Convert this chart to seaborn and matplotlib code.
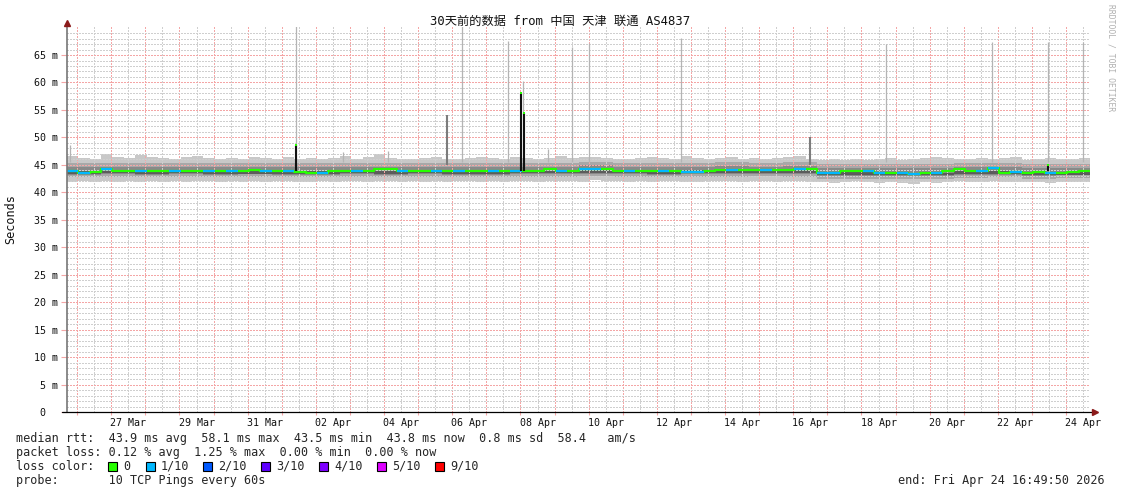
import datetime as dt
import numpy as np
import pandas as pd
import matplotlib
matplotlib.use('Agg')
import matplotlib.pyplot as plt
import matplotlib.dates as mdates
from matplotlib.ticker import FixedLocator, FuncFormatter, NullFormatter
from matplotlib.patches import Rectangle
import seaborn as sns

sns.set_style('white')
plt.rcParams['font.family'] = ['DejaVu Sans Mono', 'Noto Sans CJK SC']
plt.rcParams['lines.scale_dashes'] = False

# time window of the graph
start = pd.Timestamp('2026-03-25 16:49:50')
end = pd.Timestamp('2026-04-24 16:49:50')

# median rtt (ms) per 8 hour bin, and loss (tenths) per bin
median_ms = [43.9, 43.6, 43.7, 44.2, 43.9, 43.8, 43.9, 43.8, 43.9, 43.8,
             43.9, 43.8, 43.9, 43.8, 43.9, 43.8, 44.0, 43.9, 43.8, 43.9,
             43.7, 43.6, 43.6, 43.8, 43.9, 43.8, 43.9, 44.2, 44.3, 43.9,
             43.8, 43.9, 43.8, 43.9, 43.8, 43.9, 43.8, 43.9, 43.8, 43.9,
             43.9, 43.8, 44.2, 43.9, 43.8, 44.3, 44.2, 44.2, 43.9, 43.8,
             43.9, 43.8, 43.9, 43.8, 43.7, 43.7, 43.9, 44.0, 44.1, 44.0,
             44.1, 44.0, 44.1, 44.0, 44.2, 44.3, 43.6, 43.5, 43.8, 43.9,
             43.8, 43.5, 43.6, 43.5, 43.4, 43.6, 43.5, 43.8, 44.3, 43.9,
             43.8, 44.5, 43.6, 43.7, 43.6, 43.7, 43.6, 43.6, 43.7, 43.8]
loss_tenths = [1, 1, 0, 1, 0, 0, 1, 0, 0, 1,
               0, 0, 1, 0, 1, 0, 0, 1, 0, 1,
               0, 0, 1, 0, 0, 1, 0, 0, 0, 1,
               0, 0, 1, 0, 1, 0, 0, 1, 0, 1,
               0, 0, 0, 1, 0, 1, 1, 0, 0, 1,
               0, 0, 1, 0, 1, 1, 0, 0, 1, 0,
               0, 1, 0, 0, 1, 0, 1, 1, 0, 0,
               1, 1, 0, 1, 1, 0, 1, 0, 0, 0,
               1, 1, 0, 1, 0, 0, 1, 0, 0, 0]

# outer smoke (fastest / slowest ping) per 8 hour bin
smoke_top = [46.6, 46.3, 46.1, 46.9, 46.4, 46.2, 46.8, 46.5, 46.3, 46.0,
             46.4, 46.7, 46.2, 46.0, 46.3, 46.1, 46.5, 46.2, 46.0, 46.4,
             46.1, 46.3, 46.0, 46.2, 46.6, 46.1, 46.4, 46.9, 46.3, 46.1,
             46.0, 46.2, 46.4, 46.1, 46.0, 46.3, 46.5, 46.2, 46.1, 46.4,
             46.2, 46.0, 46.3, 46.6, 46.2, 46.4, 46.5, 46.3, 46.1, 46.0,
             46.2, 46.5, 46.3, 46.1, 46.6, 46.2, 46.0, 46.3, 46.4, 46.1,
             46.3, 46.0, 46.2, 46.5, 46.7, 46.1, 45.9, 46.0, 45.8, 46.1,
             45.9, 46.0, 46.2, 45.9, 46.1, 46.3, 46.5, 46.2, 46.0, 46.1,
             46.3, 46.0, 46.2, 46.4, 45.9, 46.0, 46.3, 46.1, 46.0, 46.2]
smoke_bottom = [41.9, 42.0, 41.8, 42.1, 41.9, 42.0, 41.9, 42.1, 41.8, 42.0,
                41.9, 42.0, 42.1, 41.9, 42.0, 41.8, 42.0, 41.9, 42.1, 42.0,
                41.8, 41.9, 42.0, 41.9, 42.1, 42.0, 41.9, 42.0, 42.1, 41.9,
                42.0, 41.8, 42.0, 41.9, 42.1, 42.0, 41.9, 42.0, 41.8, 42.0,
                42.1, 41.9, 42.0, 42.1, 42.0, 41.9, 42.2, 42.1, 42.0, 41.9,
                42.0, 41.9, 42.1, 42.0, 41.9, 41.8, 42.0, 42.1, 42.0, 41.9,
                42.1, 42.0, 41.9, 42.1, 42.0, 41.9, 41.8, 41.7, 41.9, 42.0,
                41.8, 41.7, 41.8, 41.7, 41.6, 41.8, 41.7, 41.9, 42.0, 41.9,
                41.8, 42.0, 41.8, 41.9, 41.8, 41.9, 41.7, 41.8, 41.8, 41.9]

# inner smoke layers per day
mid_hi = [45.4, 45.3, 45.4, 45.3, 45.3, 45.4, 45.3, 45.4, 45.3, 45.4,
          45.3, 45.3, 45.4, 45.3, 45.3, 45.5, 45.4, 45.3, 45.4, 45.5,
          45.4, 45.5, 45.2, 45.1, 45.2, 45.1, 45.3, 45.4, 45.2, 45.2]
mid_lo = [42.7, 42.8, 42.7, 42.8, 42.7, 42.8, 42.7, 42.7, 42.8, 42.7,
          42.8, 42.7, 42.7, 42.8, 42.8, 42.9, 42.8, 42.7, 42.8, 42.8,
          42.9, 42.8, 42.5, 42.5, 42.4, 42.5, 42.6, 42.7, 42.5, 42.6]
core_hi = [44.7, 44.6, 44.7, 44.6, 44.6, 44.7, 44.6, 44.7, 44.6, 44.6,
           44.7, 44.6, 44.6, 44.7, 44.6, 44.9, 44.7, 44.6, 44.7, 44.8,
           44.7, 44.8, 44.5, 44.4, 44.4, 44.4, 44.6, 44.7, 44.5, 44.5]
core_lo = [43.2, 43.3, 43.2, 43.3, 43.2, 43.3, 43.2, 43.2, 43.3, 43.2,
           43.3, 43.2, 43.2, 43.3, 43.3, 43.4, 43.3, 43.2, 43.3, 43.3,
           43.4, 43.3, 43.0, 43.0, 42.9, 43.0, 43.1, 43.2, 43.0, 43.1]
dark_hi = [43.9, 43.9, 43.9, 43.9, 43.8, 43.9, 43.9, 43.9, 43.9, 43.9,
           43.9, 43.9, 43.9, 43.9, 43.9, 44.1, 43.9, 43.9, 44.0, 44.0,
           44.0, 44.1, 43.7, 43.7, 43.6, 43.6, 43.8, 43.9, 43.7, 43.7]
dark_lo = [43.4, 43.5, 43.4, 43.5, 43.4, 43.4, 43.4, 43.4, 43.5, 43.4,
           43.5, 43.4, 43.4, 43.5, 43.5, 43.6, 43.5, 43.4, 43.5, 43.5,
           43.6, 43.5, 43.2, 43.2, 43.1, 43.2, 43.3, 43.4, 43.2, 43.2]

# single slow pings
spike_times = ['2026-03-25 18:56', '2026-04-01 10:00', '2026-04-02 19:00',
               '2026-04-04 02:40', '2026-04-06 06:45', '2026-04-07 15:10',
               '2026-04-08 01:30', '2026-04-08 19:27', '2026-04-09 12:15',
               '2026-04-10 00:15', '2026-04-12 17:05', '2026-04-18 17:20',
               '2026-04-21 19:55', '2026-04-23 11:20', '2026-04-24 11:50']
spike_tops = [48.6, 70.5, 47.3, 47.5, 70.5, 67.5, 60.2, 47.8, 66.4,
              67.2, 68.1, 67.0, 67.4, 67.4, 67.3]
# several slow pings in one step
heavy_times = ['2026-04-05 20:10', '2026-04-16 11:50']
heavy_tops = [54.0, 50.0]
# median excursions
med_spike_times = ['2026-04-01 10:00', '2026-04-08 00:40', '2026-04-08 02:35',
                   '2026-04-23 11:20']
med_spike_peaks = [48.6, 58.1, 54.4, 44.9]

loss_colors = {0: '#26ff00', 1: '#00b8ff', 2: '#0059ff', 3: '#5e00ff',
               4: '#7e00ff', 5: '#dd00ff', 9: '#ff0000'}
legend_labels = ['0', '1/10', '2/10', '3/10', '4/10', '5/10', '9/10']
legend_keys = [0, 1, 2, 3, 4, 5, 9]

W, H = 1121, 494
fig = plt.figure(figsize=(W / 100, H / 100), dpi=100)
ax = fig.add_axes([67 / W, (H - 412) / H, 1023 / W, 385 / H])

bins8 = pd.date_range(start, periods=len(median_ms) + 1, freq='8h')
days = pd.date_range(start, periods=len(mid_hi) + 1, freq='D')

def ext(a):
    return np.append(a, a[-1])

# smoke
ax.fill_between(bins8, ext(smoke_bottom), ext(smoke_top), step='post',
                color='#c8c8c8', lw=0, zorder=1)
ax.fill_between(days, ext(mid_lo), ext(mid_hi), step='post',
                color='#a8a8a8', lw=0, zorder=1.1)
ax.fill_between(days, ext(core_lo), ext(core_hi), step='post',
                color='#898989', lw=0, zorder=1.2)
ax.fill_between(days, ext(dark_lo), ext(dark_hi), step='post',
                color='#5c5c5c', lw=0, zorder=1.3)

# slow ping spikes (above the grid)
ax.vlines(pd.to_datetime(spike_times), 45.5, spike_tops, color='#b4b4b4',
          lw=0.9, zorder=2.7)
ax.vlines(pd.to_datetime(heavy_times), 45.0, heavy_tops, color='#7c7c7c',
          lw=1.5, zorder=2.7)

# median line, green where no loss
med_df = pd.DataFrame({'time': bins8, 'median': ext(median_ms)})
sns.lineplot(data=med_df, x='time', y='median', drawstyle='steps-post',
             color=loss_colors[0], lw=1.6, ax=ax, zorder=3)
for i, l in enumerate(loss_tenths):
    if l > 0:
        ax.hlines(median_ms[i], bins8[i], bins8[i + 1], color=loss_colors[l],
                  lw=1.6, zorder=3.1)

ms_t = pd.to_datetime(med_spike_times)
ax.vlines(ms_t, 43.8, med_spike_peaks, color='#111111', lw=1.5, zorder=3.2)
ax.scatter(ms_t, med_spike_peaks, marker='s', s=4, color=loss_colors[0],
           lw=0, zorder=3.3)

ax.set_xlim(start, end)
ax.set_ylim(0, 70.1)
ax.set_xlabel('')
ax.set_ylabel('')

# axes ticks / grid in rrdtool style
ax.xaxis.set_major_locator(mdates.DayLocator())
ax.xaxis.set_major_formatter(NullFormatter())
ax.xaxis.set_minor_locator(mdates.HourLocator(byhour=[12]))
first_label = dt.date(2026, 3, 27)

def xfmt(x, pos):
    d = mdates.num2date(x)
    if (d.date() - first_label).days % 2 == 0:
        return d.strftime('%d %b')
    return ''

ax.xaxis.set_minor_formatter(FuncFormatter(xfmt))
ax.yaxis.set_major_locator(FixedLocator(list(range(0, 70, 5))))
ax.yaxis.set_minor_locator(FixedLocator([v for v in range(1, 70) if v % 5]))
ax.yaxis.set_major_formatter(FuncFormatter(lambda v, p: '0  ' if v == 0 else f'{int(v)} m'))

red = '#f4a6a6'
grey = '#cfcfcf'
dots = (0, (1.44, 1.44))
ax.set_axisbelow(False)
ax.grid(which='major', color=red, ls=dots, lw=0.72, antialiased=False)
ax.grid(which='minor', color=grey, ls=dots, lw=0.72, antialiased=False)
ax.tick_params(axis='y', which='major', length=4, width=0.8, color=red,
               labelsize=7.2, pad=2.5, labelcolor='#111111', left=True)
ax.tick_params(axis='y', which='minor', length=0)
ax.tick_params(axis='x', which='major', length=2.5, width=0.8, color=red,
               bottom=True)
ax.tick_params(axis='x', which='minor', length=0, labelsize=7.2, pad=4,
               labelcolor='#111111')
for s in ax.spines.values():
    s.set_visible(False)

# axis lines with arrows
ax.plot([0, 0], [0, 1 + 4 / 385], transform=ax.transAxes, color='#777777',
        lw=1.2, clip_on=False, zorder=4)
ax.plot([-5 / 1023, 1 + 4 / 1023], [0, 0], transform=ax.transAxes,
        color='#000000', lw=0.9, clip_on=False, zorder=4)
ax.plot([0], [1 + 4 / 385], transform=ax.transAxes, marker='^', ms=4.5,
        color='#8b1a1a', clip_on=False, zorder=5)
ax.plot([1 + 5 / 1023], [0], transform=ax.transAxes, marker='>', ms=4.5,
        color='#8b1a1a', clip_on=False, zorder=5)

def px(x, y):
    return x / W, 1 - y / H

fs = 8.5
fig.text(*px(560, 21), '30天前的数据 from 中国 天津 联通 AS4837', ha='center',
         va='center', fontsize=8.8, color='#111111')
fig.text(*px(11, 219), 'Seconds', rotation=90, ha='center', va='center',
         fontsize=fs, color='#111111')
fig.text(*px(1111, 4), 'RRDTOOL / TOBI OETIKER', rotation=270, ha='center',
         va='top', fontsize=5.8, color='#b0b0b0')

fig.text(*px(16, 438), 'median rtt:  43.9 ms avg  58.1 ms max  43.5 ms min  '
         '43.8 ms now  0.8 ms sd  58.4   am/s', va='center', fontsize=fs)
fig.text(*px(16, 452), 'packet loss: 0.12 % avg  1.25 % max  0.00 % min  '
         '0.00 % now', va='center', fontsize=fs)
fig.text(*px(16, 466), 'loss color:', va='center', fontsize=fs)
sq_x = [108, 146, 203, 261, 319, 377, 435]
for x0, key, lab in zip(sq_x, legend_keys, legend_labels):
    fig.patches.append(Rectangle(px(x0, 470.5), 9 / W, 9 / H,
                                 transform=fig.transFigure, facecolor=loss_colors[key],
                                 edgecolor='black', lw=0.8))
    fig.text(*px(x0 + 15, 466), lab, va='center', fontsize=fs)
fig.text(*px(16, 480), 'probe:       10 TCP Pings every 60s', va='center',
         fontsize=fs)
fig.text(*px(1105, 480), 'end: Fri Apr 24 16:49:50 2026', ha='right',
         va='center', fontsize=fs)

fig.savefig('out.png', dpi=100)
